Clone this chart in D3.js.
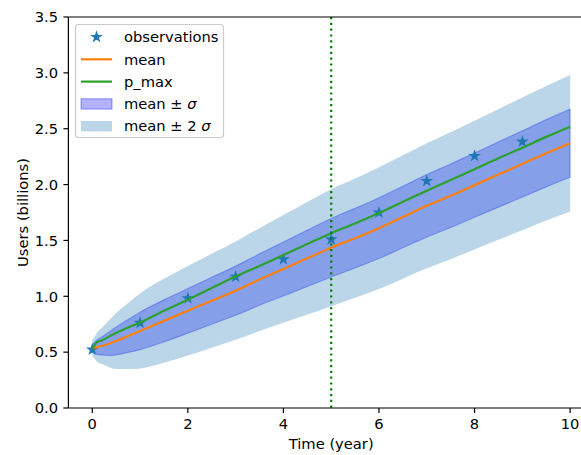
<!DOCTYPE html>
<html>
<head>
<meta charset="utf-8">
<script src="https://cdn.jsdelivr.net/npm/d3@7"></script>
<style>
  body { margin: 0; background: #fff; }
  svg { display: block; font-family: "DejaVu Sans", sans-serif; }
</style>
</head>
<body>
<script>
// observations (one per year)
const obsYears = [0, 1, 2, 3, 4, 5, 6, 7, 8, 9];
const obsUsers = [0.522, 0.762, 0.982, 1.175, 1.331, 1.51, 1.749, 2.032, 2.256, 2.384];

// model curves sampled on a time grid (years)
const timeGrid = [0, 0.05, 0.1, 0.2, 0.35, 0.5, 0.75, 1, 1.5, 2, 2.5, 3, 3.5, 4, 4.5, 5,
                  5.5, 6, 6.5, 7, 7.5, 8, 8.5, 9, 9.5, 10];
const meanUsers = [0.535, 0.54, 0.545, 0.555, 0.575, 0.6, 0.645, 0.69, 0.78, 0.87, 0.96, 1.05,
                   1.15, 1.245, 1.34, 1.435, 1.52, 1.61, 1.71, 1.81, 1.9, 1.995, 2.09, 2.185, 2.28, 2.37];
const sigmaUsers = [0.035, 0.05, 0.065, 0.08, 0.105, 0.125, 0.148, 0.168, 0.188, 0.2, 0.21, 0.22,
                    0.23, 0.241, 0.252, 0.262, 0.267, 0.272, 0.276, 0.28, 0.284, 0.288, 0.292, 0.297, 0.301, 0.305];
const pmaxUsers = [0.525, 0.565, 0.59, 0.605, 0.64, 0.672, 0.72, 0.765, 0.87, 0.97, 1.075, 1.178,
                   1.272, 1.37, 1.467, 1.565, 1.652, 1.745, 1.847, 1.945, 2.04, 2.137, 2.236, 2.33, 2.427, 2.518];

const vlineYear = 5;
const xTicks = [0, 2, 4, 6, 8, 10];
const yTicks = [0.0, 0.5, 1.0, 1.5, 2.0, 2.5, 3.0, 3.5];

const W = 581, H = 455;
const axL = 68.4, axR = 594, axT = 17, axB = 408;
const fs = 14.7;

const x = d3.scaleLinear().domain([-0.5, 10.5]).range([axL, axR]);
const y = d3.scaleLinear().domain([0, 3.5]).range([axB, axT]);

const svg = d3.select("body").append("svg")
  .attr("width", W)
  .attr("height", H);

const rows = timeGrid.map((t, i) => ({t: t, m: meanUsers[i], s: sigmaUsers[i], p: pmaxUsers[i]}));

// bands: sigma first, then 2 sigma on top
const band = k => d3.area()
  .x(d => x(d.t))
  .y0(d => y(d.m - k * d.s))
  .y1(d => y(d.m + k * d.s))
  .curve(d3.curveMonotoneX);

svg.append("path")
  .datum(rows)
  .attr("d", band(1))
  .attr("fill", "blue")
  .attr("fill-opacity", 0.3)
  .attr("stroke", "blue")
  .attr("stroke-opacity", 0.3)
  .attr("stroke-width", 1.2);

svg.append("path")
  .datum(rows)
  .attr("d", band(2))
  .attr("fill", "#1f77b4")
  .attr("fill-opacity", 0.3);

// observations
svg.append("g")
  .selectAll("path")
  .data(obsYears)
  .enter()
  .append("path")
  .attr("transform", (d, i) => "translate(" + x(d) + "," + y(obsUsers[i]) + ")")
  .attr("d", d3.symbol(d3.symbolStar, 22))
  .attr("fill", "#1f77b4")
  .attr("stroke", "#1f77b4")
  .attr("stroke-width", 1.4)
  .attr("stroke-linejoin", "miter");

// mean and p_max
const line = key => d3.line()
  .x(d => x(d.t))
  .y(d => y(d[key]))
  .curve(d3.curveMonotoneX);

svg.append("path")
  .datum(rows)
  .attr("d", line("m"))
  .attr("fill", "none")
  .attr("stroke", "#ff7f0e")
  .attr("stroke-width", 2.2);

svg.append("path")
  .datum(rows)
  .attr("d", line("p"))
  .attr("fill", "none")
  .attr("stroke", "#2ca02c")
  .attr("stroke-width", 2.2);

// vertical dotted line
svg.append("line")
  .attr("x1", x(vlineYear))
  .attr("x2", x(vlineYear))
  .attr("y1", axT)
  .attr("y2", axB)
  .attr("stroke", "green")
  .attr("stroke-width", 2.2)
  .attr("stroke-dasharray", "2.2,3.6");

// spines
svg.append("line")
  .attr("x1", axL).attr("x2", axL).attr("y1", axT).attr("y2", axB)
  .attr("stroke", "#000").attr("stroke-width", 1.2);
svg.append("line")
  .attr("x1", axL).attr("x2", axR).attr("y1", axB).attr("y2", axB)
  .attr("stroke", "#000").attr("stroke-width", 1.2);
svg.append("line")
  .attr("x1", axL).attr("x2", axR).attr("y1", axT).attr("y2", axT)
  .attr("stroke", "#000").attr("stroke-width", 1.2);

// ticks
const xg = svg.append("g").selectAll("g").data(xTicks).enter().append("g")
  .attr("transform", d => "translate(" + x(d) + ",0)");
xg.append("line").attr("y1", axB).attr("y2", axB + 5).attr("stroke", "#000").attr("stroke-width", 1.2);
xg.append("text")
  .attr("y", axB + 10.3)
  .attr("dy", "0.76em")
  .attr("text-anchor", "middle")
  .style("font-size", fs + "px")
  .attr("fill", "#000")
  .text(d => d);

const yg = svg.append("g").selectAll("g").data(yTicks).enter().append("g")
  .attr("transform", d => "translate(0," + y(d) + ")");
yg.append("line").attr("x1", axL - 5).attr("x2", axL).attr("stroke", "#000").attr("stroke-width", 1.2);
yg.append("text")
  .attr("x", axL - 10.3)
  .attr("dy", "0.36em")
  .attr("text-anchor", "end")
  .style("font-size", fs + "px")
  .attr("fill", "#000")
  .text(d => d.toFixed(1));

// axis labels
svg.append("text")
  .attr("x", (axL + axR) / 2)
  .attr("y", 449)
  .attr("text-anchor", "middle")
  .style("font-size", fs + "px")
  .text("Time (year)");

svg.append("text")
  .attr("transform", "translate(28," + (axT + axB) / 2 + ") rotate(-90)")
  .attr("text-anchor", "middle")
  .style("font-size", fs + "px")
  .text("Users (billions)");

// legend
const lg = svg.append("g");
lg.append("rect")
  .attr("x", 75.5).attr("y", 24.5)
  .attr("width", 148).attr("height", 113)
  .attr("rx", 3)
  .attr("fill", "#fff").attr("fill-opacity", 0.8)
  .attr("stroke", "#ccc").attr("stroke-width", 1.2);

const rowY = [37, 59.3, 81.6, 103.9, 126.2];
const hx0 = 81, hx1 = 112, tx = 124;

lg.append("path")
  .attr("transform", "translate(" + (hx0 + hx1) / 2 + "," + rowY[0] + ")")
  .attr("d", d3.symbol(d3.symbolStar, 22))
  .attr("fill", "#1f77b4").attr("stroke", "#1f77b4").attr("stroke-width", 1.4);
lg.append("line").attr("x1", hx0).attr("x2", hx1).attr("y1", rowY[1]).attr("y2", rowY[1])
  .attr("stroke", "#ff7f0e").attr("stroke-width", 2.2);
lg.append("line").attr("x1", hx0).attr("x2", hx1).attr("y1", rowY[2]).attr("y2", rowY[2])
  .attr("stroke", "#2ca02c").attr("stroke-width", 2.2);
lg.append("rect").attr("x", hx0).attr("y", rowY[3] - 5.2).attr("width", hx1 - hx0).attr("height", 10.4)
  .attr("fill", "blue").attr("fill-opacity", 0.3).attr("stroke", "blue").attr("stroke-opacity", 0.3).attr("stroke-width", 1.2);
lg.append("rect").attr("x", hx0).attr("y", rowY[4] - 5.2).attr("width", hx1 - hx0).attr("height", 10.4)
  .attr("fill", "#1f77b4").attr("fill-opacity", 0.3);

const labels = [["observations"], ["mean"], ["p_max"], ["mean ± ", "σ"], ["mean ± 2 ", "σ"]];
labels.forEach((parts, i) => {
  const t = lg.append("text")
    .attr("x", tx).attr("y", rowY[i])
    .attr("dy", "0.36em")
    .style("font-size", fs + "px");
  t.append("tspan").text(parts[0]);
  if (parts[1]) t.append("tspan").style("font-style", "italic").text(parts[1]);
});
</script>
</body>
</html>
